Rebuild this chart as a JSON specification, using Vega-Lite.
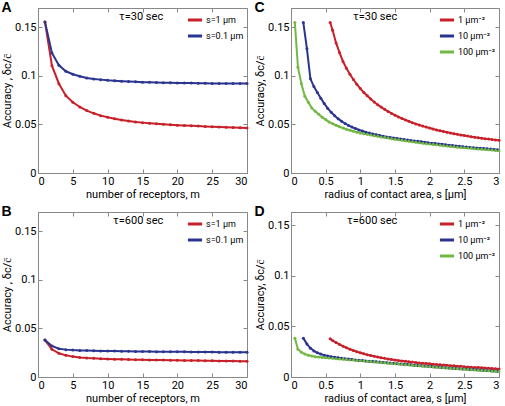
{
"$schema": "https://vega.github.io/schema/vega-lite/v6.json",
"padding": {"top": 0, "left": 1, "right": 2, "bottom": 0},
"background": "white",
"datasets": {
"A": [
{"series":"s=1 µm","x":1,"y":0.1557},{"series":"s=1 µm","x":2,"y":0.1106},{"series":"s=1 µm","x":3,"y":0.092},{"series":"s=1 µm","x":4,"y":0.0797},{"series":"s=1 µm","x":5,"y":0.0729},{"series":"s=1 µm","x":6,"y":0.068},{"series":"s=1 µm","x":7,"y":0.0643},{"series":"s=1 µm","x":8,"y":0.0615},{"series":"s=1 µm","x":9,"y":0.0591},{"series":"s=1 µm","x":10,"y":0.0574},{"series":"s=1 µm","x":11,"y":0.056},{"series":"s=1 µm","x":12,"y":0.0546},{"series":"s=1 µm","x":13,"y":0.0536},{"series":"s=1 µm","x":14,"y":0.0526},{"series":"s=1 µm","x":15,"y":0.0519},{"series":"s=1 µm","x":16,"y":0.0513},{"series":"s=1 µm","x":17,"y":0.0507},{"series":"s=1 µm","x":18,"y":0.0502},{"series":"s=1 µm","x":19,"y":0.0497},{"series":"s=1 µm","x":20,"y":0.0493},{"series":"s=1 µm","x":21,"y":0.0489},{"series":"s=1 µm","x":22,"y":0.0486},{"series":"s=1 µm","x":23,"y":0.0483},{"series":"s=1 µm","x":24,"y":0.048},{"series":"s=1 µm","x":25,"y":0.0477},{"series":"s=1 µm","x":26,"y":0.0474},{"series":"s=1 µm","x":27,"y":0.0471},{"series":"s=1 µm","x":28,"y":0.0469},{"series":"s=1 µm","x":29,"y":0.0466},{"series":"s=1 µm","x":30,"y":0.0464},
{"series":"s=0.1 µm","x":1,"y":0.1557},{"series":"s=0.1 µm","x":2,"y":0.1237},{"series":"s=0.1 µm","x":3,"y":0.111},{"series":"s=0.1 µm","x":4,"y":0.1048},{"series":"s=0.1 µm","x":5,"y":0.1017},{"series":"s=0.1 µm","x":6,"y":0.0997},{"series":"s=0.1 µm","x":7,"y":0.0979},{"series":"s=0.1 µm","x":8,"y":0.0969},{"series":"s=0.1 µm","x":9,"y":0.0962},{"series":"s=0.1 µm","x":10,"y":0.0955},{"series":"s=0.1 µm","x":11,"y":0.095},{"series":"s=0.1 µm","x":12,"y":0.0946},{"series":"s=0.1 µm","x":13,"y":0.0942},{"series":"s=0.1 µm","x":14,"y":0.0939},{"series":"s=0.1 µm","x":15,"y":0.0936},{"series":"s=0.1 µm","x":16,"y":0.0934},{"series":"s=0.1 µm","x":17,"y":0.0932},{"series":"s=0.1 µm","x":18,"y":0.093},{"series":"s=0.1 µm","x":19,"y":0.0929},{"series":"s=0.1 µm","x":20,"y":0.0928},{"series":"s=0.1 µm","x":21,"y":0.0927},{"series":"s=0.1 µm","x":22,"y":0.0926},{"series":"s=0.1 µm","x":23,"y":0.0925},{"series":"s=0.1 µm","x":24,"y":0.0924},{"series":"s=0.1 µm","x":25,"y":0.0923},{"series":"s=0.1 µm","x":26,"y":0.0923},{"series":"s=0.1 µm","x":27,"y":0.0922},{"series":"s=0.1 µm","x":28,"y":0.0922},{"series":"s=0.1 µm","x":29,"y":0.0921},{"series":"s=0.1 µm","x":30,"y":0.0921}
],
"B": [
{"series":"s=1 µm","x":1,"y":0.038},{"series":"s=1 µm","x":2,"y":0.0285},{"series":"s=1 µm","x":3,"y":0.0244},{"series":"s=1 µm","x":4,"y":0.0223},{"series":"s=1 µm","x":5,"y":0.021},{"series":"s=1 µm","x":6,"y":0.0202},{"series":"s=1 µm","x":7,"y":0.0196},{"series":"s=1 µm","x":8,"y":0.0192},{"series":"s=1 µm","x":9,"y":0.0189},{"series":"s=1 µm","x":10,"y":0.0186},{"series":"s=1 µm","x":11,"y":0.0184},{"series":"s=1 µm","x":12,"y":0.0182},{"series":"s=1 µm","x":13,"y":0.018},{"series":"s=1 µm","x":14,"y":0.0178},{"series":"s=1 µm","x":15,"y":0.0177},{"series":"s=1 µm","x":16,"y":0.0176},{"series":"s=1 µm","x":17,"y":0.0175},{"series":"s=1 µm","x":18,"y":0.0174},{"series":"s=1 µm","x":19,"y":0.0173},{"series":"s=1 µm","x":20,"y":0.0172},{"series":"s=1 µm","x":21,"y":0.0171},{"series":"s=1 µm","x":22,"y":0.017},{"series":"s=1 µm","x":23,"y":0.0169},{"series":"s=1 µm","x":24,"y":0.0168},{"series":"s=1 µm","x":25,"y":0.0167},{"series":"s=1 µm","x":26,"y":0.0166},{"series":"s=1 µm","x":27,"y":0.0165},{"series":"s=1 µm","x":28,"y":0.0164},{"series":"s=1 µm","x":29,"y":0.0163},{"series":"s=1 µm","x":30,"y":0.0162},
{"series":"s=0.1 µm","x":1,"y":0.038},{"series":"s=0.1 µm","x":2,"y":0.032},{"series":"s=0.1 µm","x":3,"y":0.0292},{"series":"s=0.1 µm","x":4,"y":0.0282},{"series":"s=0.1 µm","x":5,"y":0.0277},{"series":"s=0.1 µm","x":6,"y":0.0274},{"series":"s=0.1 µm","x":7,"y":0.0272},{"series":"s=0.1 µm","x":8,"y":0.027},{"series":"s=0.1 µm","x":9,"y":0.0269},{"series":"s=0.1 µm","x":10,"y":0.0268},{"series":"s=0.1 µm","x":11,"y":0.0267},{"series":"s=0.1 µm","x":12,"y":0.0266},{"series":"s=0.1 µm","x":13,"y":0.0265},{"series":"s=0.1 µm","x":14,"y":0.0264},{"series":"s=0.1 µm","x":15,"y":0.0263},{"series":"s=0.1 µm","x":16,"y":0.0262},{"series":"s=0.1 µm","x":17,"y":0.0261},{"series":"s=0.1 µm","x":18,"y":0.0261},{"series":"s=0.1 µm","x":19,"y":0.026},{"series":"s=0.1 µm","x":20,"y":0.026},{"series":"s=0.1 µm","x":21,"y":0.0259},{"series":"s=0.1 µm","x":22,"y":0.0258},{"series":"s=0.1 µm","x":23,"y":0.0258},{"series":"s=0.1 µm","x":24,"y":0.0257},{"series":"s=0.1 µm","x":25,"y":0.0257},{"series":"s=0.1 µm","x":26,"y":0.0256},{"series":"s=0.1 µm","x":27,"y":0.0256},{"series":"s=0.1 µm","x":28,"y":0.0255},{"series":"s=0.1 µm","x":29,"y":0.0255},{"series":"s=0.1 µm","x":30,"y":0.0254}
],
"C": [
{"series":"1 µm⁻²","x":0.565,"y":0.155},{"series":"1 µm⁻²","x":0.6,"y":0.147},{"series":"1 µm⁻²","x":0.65,"y":0.134},{"series":"1 µm⁻²","x":0.7,"y":0.124},{"series":"1 µm⁻²","x":0.75,"y":0.1149},{"series":"1 µm⁻²","x":0.8,"y":0.1079},{"series":"1 µm⁻²","x":0.85,"y":0.1017},{"series":"1 µm⁻²","x":0.9,"y":0.0963},{"series":"1 µm⁻²","x":0.95,"y":0.0914},{"series":"1 µm⁻²","x":1,"y":0.087},{"series":"1 µm⁻²","x":1.05,"y":0.083},{"series":"1 µm⁻²","x":1.1,"y":0.0795},{"series":"1 µm⁻²","x":1.15,"y":0.0762},{"series":"1 µm⁻²","x":1.2,"y":0.0732},{"series":"1 µm⁻²","x":1.25,"y":0.0704},{"series":"1 µm⁻²","x":1.3,"y":0.0679},{"series":"1 µm⁻²","x":1.35,"y":0.0656},{"series":"1 µm⁻²","x":1.4,"y":0.0634},{"series":"1 µm⁻²","x":1.45,"y":0.0614},{"series":"1 µm⁻²","x":1.5,"y":0.0596},{"series":"1 µm⁻²","x":1.55,"y":0.0578},{"series":"1 µm⁻²","x":1.6,"y":0.0562},{"series":"1 µm⁻²","x":1.65,"y":0.0547},{"series":"1 µm⁻²","x":1.7,"y":0.0533},{"series":"1 µm⁻²","x":1.75,"y":0.0519},{"series":"1 µm⁻²","x":1.8,"y":0.0506},{"series":"1 µm⁻²","x":1.85,"y":0.0495},{"series":"1 µm⁻²","x":1.9,"y":0.0483},{"series":"1 µm⁻²","x":1.95,"y":0.0473},{"series":"1 µm⁻²","x":2,"y":0.0463},{"series":"1 µm⁻²","x":2.05,"y":0.0453},{"series":"1 µm⁻²","x":2.1,"y":0.0444},{"series":"1 µm⁻²","x":2.15,"y":0.0436},{"series":"1 µm⁻²","x":2.2,"y":0.0427},{"series":"1 µm⁻²","x":2.25,"y":0.042},{"series":"1 µm⁻²","x":2.3,"y":0.0412},{"series":"1 µm⁻²","x":2.35,"y":0.0405},{"series":"1 µm⁻²","x":2.4,"y":0.0398},{"series":"1 µm⁻²","x":2.45,"y":0.0392},{"series":"1 µm⁻²","x":2.5,"y":0.0386},{"series":"1 µm⁻²","x":2.55,"y":0.038},{"series":"1 µm⁻²","x":2.6,"y":0.0374},{"series":"1 µm⁻²","x":2.65,"y":0.0369},{"series":"1 µm⁻²","x":2.7,"y":0.0364},{"series":"1 µm⁻²","x":2.75,"y":0.0359},{"series":"1 µm⁻²","x":2.8,"y":0.0354},{"series":"1 µm⁻²","x":2.85,"y":0.035},{"series":"1 µm⁻²","x":2.9,"y":0.0345},{"series":"1 µm⁻²","x":2.95,"y":0.0341},{"series":"1 µm⁻²","x":3,"y":0.0337},
{"series":"10 µm⁻²","x":0.178,"y":0.155},{"series":"10 µm⁻²","x":0.23,"y":0.128},{"series":"10 µm⁻²","x":0.28,"y":0.097},{"series":"10 µm⁻²","x":0.33,"y":0.089},{"series":"10 µm⁻²","x":0.38,"y":0.083},{"series":"10 µm⁻²","x":0.43,"y":0.077},{"series":"10 µm⁻²","x":0.48,"y":0.0715},{"series":"10 µm⁻²","x":0.53,"y":0.0665},{"series":"10 µm⁻²","x":0.58,"y":0.0625},{"series":"10 µm⁻²","x":0.63,"y":0.059},{"series":"10 µm⁻²","x":0.68,"y":0.056},{"series":"10 µm⁻²","x":0.73,"y":0.0532},{"series":"10 µm⁻²","x":0.78,"y":0.051},{"series":"10 µm⁻²","x":0.83,"y":0.049},{"series":"10 µm⁻²","x":0.88,"y":0.0473},{"series":"10 µm⁻²","x":0.93,"y":0.0458},{"series":"10 µm⁻²","x":0.98,"y":0.0444},{"series":"10 µm⁻²","x":1.03,"y":0.0432},{"series":"10 µm⁻²","x":1.08,"y":0.0421},{"series":"10 µm⁻²","x":1.13,"y":0.0411},{"series":"10 µm⁻²","x":1.18,"y":0.0402},{"series":"10 µm⁻²","x":1.23,"y":0.0394},{"series":"10 µm⁻²","x":1.28,"y":0.0386},{"series":"10 µm⁻²","x":1.33,"y":0.0379},{"series":"10 µm⁻²","x":1.38,"y":0.0372},{"series":"10 µm⁻²","x":1.43,"y":0.0366},{"series":"10 µm⁻²","x":1.48,"y":0.036},{"series":"10 µm⁻²","x":1.53,"y":0.0355},{"series":"10 µm⁻²","x":1.58,"y":0.035},{"series":"10 µm⁻²","x":1.63,"y":0.0345},{"series":"10 µm⁻²","x":1.68,"y":0.034},{"series":"10 µm⁻²","x":1.73,"y":0.0335},{"series":"10 µm⁻²","x":1.78,"y":0.033},{"series":"10 µm⁻²","x":1.83,"y":0.0326},{"series":"10 µm⁻²","x":1.88,"y":0.0321},{"series":"10 µm⁻²","x":1.93,"y":0.0316},{"series":"10 µm⁻²","x":1.98,"y":0.0311},{"series":"10 µm⁻²","x":2.03,"y":0.0307},{"series":"10 µm⁻²","x":2.08,"y":0.0303},{"series":"10 µm⁻²","x":2.13,"y":0.0299},{"series":"10 µm⁻²","x":2.18,"y":0.0295},{"series":"10 µm⁻²","x":2.23,"y":0.0291},{"series":"10 µm⁻²","x":2.28,"y":0.0287},{"series":"10 µm⁻²","x":2.33,"y":0.0283},{"series":"10 µm⁻²","x":2.38,"y":0.0279},{"series":"10 µm⁻²","x":2.43,"y":0.0275},{"series":"10 µm⁻²","x":2.48,"y":0.0271},{"series":"10 µm⁻²","x":2.53,"y":0.0267},{"series":"10 µm⁻²","x":2.58,"y":0.0264},{"series":"10 µm⁻²","x":2.63,"y":0.0261},{"series":"10 µm⁻²","x":2.68,"y":0.0258},{"series":"10 µm⁻²","x":2.73,"y":0.0255},{"series":"10 µm⁻²","x":2.78,"y":0.0252},{"series":"10 µm⁻²","x":2.83,"y":0.0249},{"series":"10 µm⁻²","x":2.88,"y":0.0246},{"series":"10 µm⁻²","x":2.93,"y":0.0243},{"series":"10 µm⁻²","x":2.98,"y":0.024},
{"series":"100 µm⁻²","x":0.056,"y":0.155},{"series":"100 µm⁻²","x":0.1,"y":0.109},{"series":"100 µm⁻²","x":0.15,"y":0.092},{"series":"100 µm⁻²","x":0.2,"y":0.079},{"series":"100 µm⁻²","x":0.25,"y":0.073},{"series":"100 µm⁻²","x":0.3,"y":0.067},{"series":"100 µm⁻²","x":0.35,"y":0.0635},{"series":"100 µm⁻²","x":0.4,"y":0.0605},{"series":"100 µm⁻²","x":0.45,"y":0.0575},{"series":"100 µm⁻²","x":0.5,"y":0.055},{"series":"100 µm⁻²","x":0.55,"y":0.0525},{"series":"100 µm⁻²","x":0.6,"y":0.0508},{"series":"100 µm⁻²","x":0.65,"y":0.0492},{"series":"100 µm⁻²","x":0.7,"y":0.0477},{"series":"100 µm⁻²","x":0.75,"y":0.0463},{"series":"100 µm⁻²","x":0.8,"y":0.0451},{"series":"100 µm⁻²","x":0.85,"y":0.044},{"series":"100 µm⁻²","x":0.9,"y":0.043},{"series":"100 µm⁻²","x":0.95,"y":0.0421},{"series":"100 µm⁻²","x":1,"y":0.0413},{"series":"100 µm⁻²","x":1.05,"y":0.0405},{"series":"100 µm⁻²","x":1.1,"y":0.0398},{"series":"100 µm⁻²","x":1.15,"y":0.0391},{"series":"100 µm⁻²","x":1.2,"y":0.0384},{"series":"100 µm⁻²","x":1.25,"y":0.0378},{"series":"100 µm⁻²","x":1.3,"y":0.0372},{"series":"100 µm⁻²","x":1.35,"y":0.0366},{"series":"100 µm⁻²","x":1.4,"y":0.036},{"series":"100 µm⁻²","x":1.45,"y":0.0354},{"series":"100 µm⁻²","x":1.5,"y":0.0348},{"series":"100 µm⁻²","x":1.55,"y":0.0343},{"series":"100 µm⁻²","x":1.6,"y":0.0338},{"series":"100 µm⁻²","x":1.65,"y":0.0333},{"series":"100 µm⁻²","x":1.7,"y":0.0328},{"series":"100 µm⁻²","x":1.75,"y":0.0322},{"series":"100 µm⁻²","x":1.8,"y":0.0317},{"series":"100 µm⁻²","x":1.85,"y":0.0312},{"series":"100 µm⁻²","x":1.9,"y":0.0307},{"series":"100 µm⁻²","x":1.95,"y":0.0302},{"series":"100 µm⁻²","x":2,"y":0.0298},{"series":"100 µm⁻²","x":2.05,"y":0.0294},{"series":"100 µm⁻²","x":2.1,"y":0.029},{"series":"100 µm⁻²","x":2.15,"y":0.0286},{"series":"100 µm⁻²","x":2.2,"y":0.0282},{"series":"100 µm⁻²","x":2.25,"y":0.0278},{"series":"100 µm⁻²","x":2.3,"y":0.0274},{"series":"100 µm⁻²","x":2.35,"y":0.027},{"series":"100 µm⁻²","x":2.4,"y":0.0266},{"series":"100 µm⁻²","x":2.45,"y":0.0263},{"series":"100 µm⁻²","x":2.5,"y":0.026},{"series":"100 µm⁻²","x":2.55,"y":0.0257},{"series":"100 µm⁻²","x":2.6,"y":0.0254},{"series":"100 µm⁻²","x":2.65,"y":0.0251},{"series":"100 µm⁻²","x":2.7,"y":0.0248},{"series":"100 µm⁻²","x":2.75,"y":0.0245},{"series":"100 µm⁻²","x":2.8,"y":0.0242},{"series":"100 µm⁻²","x":2.85,"y":0.0239},{"series":"100 µm⁻²","x":2.9,"y":0.0236},{"series":"100 µm⁻²","x":2.95,"y":0.0233},{"series":"100 µm⁻²","x":3,"y":0.023}
],
"D": [
{"series":"1 µm⁻²","x":0.565,"y":0.0377},{"series":"1 µm⁻²","x":0.6,"y":0.036},{"series":"1 µm⁻²","x":0.65,"y":0.034},{"series":"1 µm⁻²","x":0.7,"y":0.0322},{"series":"1 µm⁻²","x":0.75,"y":0.0305},{"series":"1 µm⁻²","x":0.8,"y":0.0289},{"series":"1 µm⁻²","x":0.85,"y":0.0275},{"series":"1 µm⁻²","x":0.9,"y":0.0262},{"series":"1 µm⁻²","x":0.95,"y":0.025},{"series":"1 µm⁻²","x":1,"y":0.0239},{"series":"1 µm⁻²","x":1.05,"y":0.0229},{"series":"1 µm⁻²","x":1.1,"y":0.022},{"series":"1 µm⁻²","x":1.15,"y":0.0212},{"series":"1 µm⁻²","x":1.2,"y":0.0204},{"series":"1 µm⁻²","x":1.25,"y":0.0197},{"series":"1 µm⁻²","x":1.3,"y":0.019},{"series":"1 µm⁻²","x":1.35,"y":0.0184},{"series":"1 µm⁻²","x":1.4,"y":0.0178},{"series":"1 µm⁻²","x":1.45,"y":0.0173},{"series":"1 µm⁻²","x":1.5,"y":0.0168},{"series":"1 µm⁻²","x":1.55,"y":0.0163},{"series":"1 µm⁻²","x":1.6,"y":0.0159},{"series":"1 µm⁻²","x":1.65,"y":0.0155},{"series":"1 µm⁻²","x":1.7,"y":0.0151},{"series":"1 µm⁻²","x":1.75,"y":0.0147},{"series":"1 µm⁻²","x":1.8,"y":0.0143},{"series":"1 µm⁻²","x":1.85,"y":0.0139},{"series":"1 µm⁻²","x":1.9,"y":0.0136},{"series":"1 µm⁻²","x":1.95,"y":0.0133},{"series":"1 µm⁻²","x":2,"y":0.013},{"series":"1 µm⁻²","x":2.05,"y":0.0127},{"series":"1 µm⁻²","x":2.1,"y":0.0124},{"series":"1 µm⁻²","x":2.15,"y":0.0121},{"series":"1 µm⁻²","x":2.2,"y":0.0118},{"series":"1 µm⁻²","x":2.25,"y":0.0115},{"series":"1 µm⁻²","x":2.3,"y":0.0112},{"series":"1 µm⁻²","x":2.35,"y":0.011},{"series":"1 µm⁻²","x":2.4,"y":0.0107},{"series":"1 µm⁻²","x":2.45,"y":0.0105},{"series":"1 µm⁻²","x":2.5,"y":0.0102},{"series":"1 µm⁻²","x":2.55,"y":0.01},{"series":"1 µm⁻²","x":2.6,"y":0.0097},{"series":"1 µm⁻²","x":2.65,"y":0.0095},{"series":"1 µm⁻²","x":2.7,"y":0.0093},{"series":"1 µm⁻²","x":2.75,"y":0.0091},{"series":"1 µm⁻²","x":2.8,"y":0.0088},{"series":"1 µm⁻²","x":2.85,"y":0.0086},{"series":"1 µm⁻²","x":2.9,"y":0.0084},{"series":"1 µm⁻²","x":2.95,"y":0.0082},{"series":"1 µm⁻²","x":3,"y":0.008},
{"series":"10 µm⁻²","x":0.178,"y":0.0384},{"series":"10 µm⁻²","x":0.23,"y":0.0325},{"series":"10 µm⁻²","x":0.28,"y":0.0285},{"series":"10 µm⁻²","x":0.33,"y":0.0258},{"series":"10 µm⁻²","x":0.38,"y":0.0239},{"series":"10 µm⁻²","x":0.43,"y":0.0226},{"series":"10 µm⁻²","x":0.48,"y":0.0216},{"series":"10 µm⁻²","x":0.53,"y":0.0208},{"series":"10 µm⁻²","x":0.58,"y":0.0201},{"series":"10 µm⁻²","x":0.63,"y":0.0195},{"series":"10 µm⁻²","x":0.68,"y":0.019},{"series":"10 µm⁻²","x":0.73,"y":0.0185},{"series":"10 µm⁻²","x":0.78,"y":0.0181},{"series":"10 µm⁻²","x":0.83,"y":0.0177},{"series":"10 µm⁻²","x":0.88,"y":0.0173},{"series":"10 µm⁻²","x":0.93,"y":0.0169},{"series":"10 µm⁻²","x":0.98,"y":0.0165},{"series":"10 µm⁻²","x":1.03,"y":0.0162},{"series":"10 µm⁻²","x":1.08,"y":0.0159},{"series":"10 µm⁻²","x":1.13,"y":0.0156},{"series":"10 µm⁻²","x":1.18,"y":0.0153},{"series":"10 µm⁻²","x":1.23,"y":0.015},{"series":"10 µm⁻²","x":1.28,"y":0.0147},{"series":"10 µm⁻²","x":1.33,"y":0.0144},{"series":"10 µm⁻²","x":1.38,"y":0.0141},{"series":"10 µm⁻²","x":1.43,"y":0.0138},{"series":"10 µm⁻²","x":1.48,"y":0.0135},{"series":"10 µm⁻²","x":1.53,"y":0.0132},{"series":"10 µm⁻²","x":1.58,"y":0.0129},{"series":"10 µm⁻²","x":1.63,"y":0.0126},{"series":"10 µm⁻²","x":1.68,"y":0.0123},{"series":"10 µm⁻²","x":1.73,"y":0.012},{"series":"10 µm⁻²","x":1.78,"y":0.0117},{"series":"10 µm⁻²","x":1.83,"y":0.0114},{"series":"10 µm⁻²","x":1.88,"y":0.0111},{"series":"10 µm⁻²","x":1.93,"y":0.0108},{"series":"10 µm⁻²","x":1.98,"y":0.0106},{"series":"10 µm⁻²","x":2.03,"y":0.0103},{"series":"10 µm⁻²","x":2.08,"y":0.01},{"series":"10 µm⁻²","x":2.13,"y":0.0098},{"series":"10 µm⁻²","x":2.18,"y":0.0095},{"series":"10 µm⁻²","x":2.23,"y":0.0092},{"series":"10 µm⁻²","x":2.28,"y":0.009},{"series":"10 µm⁻²","x":2.33,"y":0.0087},{"series":"10 µm⁻²","x":2.38,"y":0.0085},{"series":"10 µm⁻²","x":2.43,"y":0.0082},{"series":"10 µm⁻²","x":2.48,"y":0.008},{"series":"10 µm⁻²","x":2.53,"y":0.0078},{"series":"10 µm⁻²","x":2.58,"y":0.0075},{"series":"10 µm⁻²","x":2.63,"y":0.0073},{"series":"10 µm⁻²","x":2.68,"y":0.0071},{"series":"10 µm⁻²","x":2.73,"y":0.0068},{"series":"10 µm⁻²","x":2.78,"y":0.0066},{"series":"10 µm⁻²","x":2.83,"y":0.0064},{"series":"10 µm⁻²","x":2.88,"y":0.0062},{"series":"10 µm⁻²","x":2.93,"y":0.0059},{"series":"10 µm⁻²","x":2.98,"y":0.0057},
{"series":"100 µm⁻²","x":0.056,"y":0.0384},{"series":"100 µm⁻²","x":0.1,"y":0.0275},{"series":"100 µm⁻²","x":0.15,"y":0.0245},{"series":"100 µm⁻²","x":0.2,"y":0.0226},{"series":"100 µm⁻²","x":0.25,"y":0.0215},{"series":"100 µm⁻²","x":0.3,"y":0.0207},{"series":"100 µm⁻²","x":0.35,"y":0.0201},{"series":"100 µm⁻²","x":0.4,"y":0.0197},{"series":"100 µm⁻²","x":0.45,"y":0.0193},{"series":"100 µm⁻²","x":0.5,"y":0.019},{"series":"100 µm⁻²","x":0.55,"y":0.0187},{"series":"100 µm⁻²","x":0.6,"y":0.0184},{"series":"100 µm⁻²","x":0.65,"y":0.0181},{"series":"100 µm⁻²","x":0.7,"y":0.0178},{"series":"100 µm⁻²","x":0.75,"y":0.0175},{"series":"100 µm⁻²","x":0.8,"y":0.0172},{"series":"100 µm⁻²","x":0.85,"y":0.0169},{"series":"100 µm⁻²","x":0.9,"y":0.0167},{"series":"100 µm⁻²","x":0.95,"y":0.0164},{"series":"100 µm⁻²","x":1,"y":0.0161},{"series":"100 µm⁻²","x":1.05,"y":0.0158},{"series":"100 µm⁻²","x":1.1,"y":0.0155},{"series":"100 µm⁻²","x":1.15,"y":0.0152},{"series":"100 µm⁻²","x":1.2,"y":0.0149},{"series":"100 µm⁻²","x":1.25,"y":0.0146},{"series":"100 µm⁻²","x":1.3,"y":0.0143},{"series":"100 µm⁻²","x":1.35,"y":0.014},{"series":"100 µm⁻²","x":1.4,"y":0.0137},{"series":"100 µm⁻²","x":1.45,"y":0.0134},{"series":"100 µm⁻²","x":1.5,"y":0.0131},{"series":"100 µm⁻²","x":1.55,"y":0.0128},{"series":"100 µm⁻²","x":1.6,"y":0.0125},{"series":"100 µm⁻²","x":1.65,"y":0.0122},{"series":"100 µm⁻²","x":1.7,"y":0.0119},{"series":"100 µm⁻²","x":1.75,"y":0.0116},{"series":"100 µm⁻²","x":1.8,"y":0.0113},{"series":"100 µm⁻²","x":1.85,"y":0.011},{"series":"100 µm⁻²","x":1.9,"y":0.0107},{"series":"100 µm⁻²","x":1.95,"y":0.0105},{"series":"100 µm⁻²","x":2,"y":0.0102},{"series":"100 µm⁻²","x":2.05,"y":0.0099},{"series":"100 µm⁻²","x":2.1,"y":0.0097},{"series":"100 µm⁻²","x":2.15,"y":0.0094},{"series":"100 µm⁻²","x":2.2,"y":0.0091},{"series":"100 µm⁻²","x":2.25,"y":0.0089},{"series":"100 µm⁻²","x":2.3,"y":0.0086},{"series":"100 µm⁻²","x":2.35,"y":0.0084},{"series":"100 µm⁻²","x":2.4,"y":0.0081},{"series":"100 µm⁻²","x":2.45,"y":0.0079},{"series":"100 µm⁻²","x":2.5,"y":0.0077},{"series":"100 µm⁻²","x":2.55,"y":0.0074},{"series":"100 µm⁻²","x":2.6,"y":0.0072},{"series":"100 µm⁻²","x":2.65,"y":0.007},{"series":"100 µm⁻²","x":2.7,"y":0.0067},{"series":"100 µm⁻²","x":2.75,"y":0.0065},{"series":"100 µm⁻²","x":2.8,"y":0.0063},{"series":"100 µm⁻²","x":2.85,"y":0.0061},{"series":"100 µm⁻²","x":2.9,"y":0.0058},{"series":"100 µm⁻²","x":2.95,"y":0.0056},{"series":"100 µm⁻²","x":3,"y":0.0054}
]
},
"vconcat": [
{"hconcat": [
{"title": {"text": "A"}, "width": 209, "height": 165, "data": {"name": "A"},
 "encoding": {
  "color": {"field": "series", "type": "nominal", "scale": {"domain": ["s=1 µm","s=0.1 µm"], "range": ["#c8202a","#2b3590"]}, "legend": {"title": "τ=30 sec", "titlePadding": 22}}
 },
 "layer": [
  {"mark": {"type": "line", "strokeWidth": 2, "point": {"filled": true, "size": 9}},
   "encoding": {
    "x": {"field": "x", "type": "quantitative", "scale": {"domain": [0, 30], "nice": false}, "axis": {"values": [0,5,10,15,20,25,30], "title": "number of receptors, m"}},
    "y": {"field": "y", "type": "quantitative", "scale": {"domain": [0, 0.17], "nice": false}, "axis": {"values": [0,0.05,0.1,0.15], "format": "~g", "title": "Accuracy , δc/c̄"}}
   }},
  {"mark": {"type": "point", "opacity": 0},
   "encoding": {
    "x": {"field": "x", "type": "quantitative", "scale": {"domain": [0, 30], "nice": false}, "axis": {"orient": "top", "values": [0,5,10,15,20,25,30], "labels": false, "title": null, "domain": false}},
    "y": {"field": "y", "type": "quantitative", "scale": {"domain": [0, 0.17], "nice": false}, "axis": {"orient": "right", "values": [0,0.05,0.1,0.15], "labels": false, "title": null, "domain": false}}
   }}
 ],
 "resolve": {"axis": {"x": "independent", "y": "independent"}}
},
{"title": {"text": "C"}, "width": 208, "height": 165, "data": {"name": "C"},
 "encoding": {
  "color": {"field": "series", "type": "nominal", "scale": {"domain": ["1 µm⁻²","10 µm⁻²","100 µm⁻²"], "range": ["#c8202a","#2b3590","#72b843"]}, "legend": {"title": "τ=30 sec", "titlePadding": 40}}
 },
 "layer": [
  {"mark": {"type": "line", "strokeWidth": 2, "point": {"filled": true, "size": 9}},
   "encoding": {
    "x": {"field": "x", "type": "quantitative", "scale": {"domain": [0, 3], "nice": false}, "axis": {"values": [0,0.5,1,1.5,2,2.5,3], "format": "~g", "title": "radius of contact area, s [µm]"}},
    "y": {"field": "y", "type": "quantitative", "scale": {"domain": [0, 0.17], "nice": false}, "axis": {"values": [0,0.05,0.1,0.15], "format": "~g", "title": "Accuracy, δc/c̄"}}
   }},
  {"mark": {"type": "point", "opacity": 0},
   "encoding": {
    "x": {"field": "x", "type": "quantitative", "scale": {"domain": [0, 3], "nice": false}, "axis": {"orient": "top", "values": [0,0.5,1,1.5,2,2.5,3], "labels": false, "title": null, "domain": false}},
    "y": {"field": "y", "type": "quantitative", "scale": {"domain": [0, 0.17], "nice": false}, "axis": {"orient": "right", "values": [0,0.05,0.1,0.15], "labels": false, "title": null, "domain": false}}
   }}
 ],
 "resolve": {"axis": {"x": "independent", "y": "independent"}}
}
], "spacing": 2, "resolve": {"scale": {"color": "independent"}, "legend": {"color": "independent"}}},
{"hconcat": [
{"title": {"text": "B"}, "width": 209, "height": 165, "data": {"name": "B"},
 "encoding": {
  "color": {"field": "series", "type": "nominal", "scale": {"domain": ["s=1 µm","s=0.1 µm"], "range": ["#c8202a","#2b3590"]}, "legend": {"title": "τ=600 sec", "titlePadding": 22}}
 },
 "layer": [
  {"mark": {"type": "line", "strokeWidth": 2, "point": {"filled": true, "size": 9}},
   "encoding": {
    "x": {"field": "x", "type": "quantitative", "scale": {"domain": [0, 30], "nice": false}, "axis": {"values": [0,5,10,15,20,25,30], "title": "number of receptors, m"}},
    "y": {"field": "y", "type": "quantitative", "scale": {"domain": [0, 0.17], "nice": false}, "axis": {"values": [0,0.05,0.1,0.15], "format": "~g", "title": "Accuracy , δc/c̄"}}
   }},
  {"mark": {"type": "point", "opacity": 0},
   "encoding": {
    "x": {"field": "x", "type": "quantitative", "scale": {"domain": [0, 30], "nice": false}, "axis": {"orient": "top", "values": [0,5,10,15,20,25,30], "labels": false, "title": null, "domain": false}},
    "y": {"field": "y", "type": "quantitative", "scale": {"domain": [0, 0.17], "nice": false}, "axis": {"orient": "right", "values": [0,0.05,0.1,0.15], "labels": false, "title": null, "domain": false}}
   }}
 ],
 "resolve": {"axis": {"x": "independent", "y": "independent"}}
},
{"title": {"text": "D"}, "width": 208, "height": 165, "data": {"name": "D"},
 "encoding": {
  "color": {"field": "series", "type": "nominal", "scale": {"domain": ["1 µm⁻²","10 µm⁻²","100 µm⁻²"], "range": ["#c8202a","#2b3590","#72b843"]}, "legend": {"title": "τ=600 sec", "titlePadding": 40}}
 },
 "layer": [
  {"mark": {"type": "line", "strokeWidth": 2, "point": {"filled": true, "size": 9}},
   "encoding": {
    "x": {"field": "x", "type": "quantitative", "scale": {"domain": [0, 3], "nice": false}, "axis": {"values": [0,0.5,1,1.5,2,2.5,3], "format": "~g", "title": "radius of contact area, s [µm]"}},
    "y": {"field": "y", "type": "quantitative", "scale": {"domain": [0, 0.163], "nice": false}, "axis": {"values": [0,0.05,0.1,0.15], "format": "~g", "title": "Accuracy, δc/c̄"}}
   }},
  {"mark": {"type": "point", "opacity": 0},
   "encoding": {
    "x": {"field": "x", "type": "quantitative", "scale": {"domain": [0, 3], "nice": false}, "axis": {"orient": "top", "values": [0,0.5,1,1.5,2,2.5,3], "labels": false, "title": null, "domain": false}},
    "y": {"field": "y", "type": "quantitative", "scale": {"domain": [0, 0.163], "nice": false}, "axis": {"orient": "right", "values": [0,0.05,0.1,0.15], "labels": false, "title": null, "domain": false}}
   }}
 ],
 "resolve": {"axis": {"x": "independent", "y": "independent"}}
}
], "spacing": 2, "resolve": {"scale": {"color": "independent"}, "legend": {"color": "independent"}}}
],
"spacing": 4,
"resolve": {"scale": {"color": "independent"}, "legend": {"color": "independent"}},
"config": {
 "font": "Roboto",
 "view": {"stroke": "#888", "strokeWidth": 1},
 "title": {"anchor": "start", "frame": "bounds", "fontSize": 14, "fontWeight": "bold", "font": "Liberation Sans", "color": "#000", "baseline": "bottom", "offset": -7},
 "axis": {"labelFont": "Roboto", "labelFontSize": 11, "labelColor": "#000", "titleFont": "Roboto", "titleFontSize": 11, "titleFontWeight": "normal", "titleColor": "#000", "domainColor": "#888", "tickColor": "#888", "tickSize": -4, "labelPadding": 6, "grid": false, "titlePadding": 2},
 "legend": {"orient": "top-right", "offset": 3, "titleOrient": "left", "titleAnchor": "start", "titleFontSize": 11, "titleFontWeight": "normal", "titleFont": "Roboto", "titleColor": "#000", "labelFontSize": 9, "labelFont": "Roboto", "labelColor": "#000", "symbolType": "stroke", "symbolStrokeWidth": 3, "symbolSize": 200, "rowPadding": 1, "labelOffset": 2, "padding": 0}
}
}
